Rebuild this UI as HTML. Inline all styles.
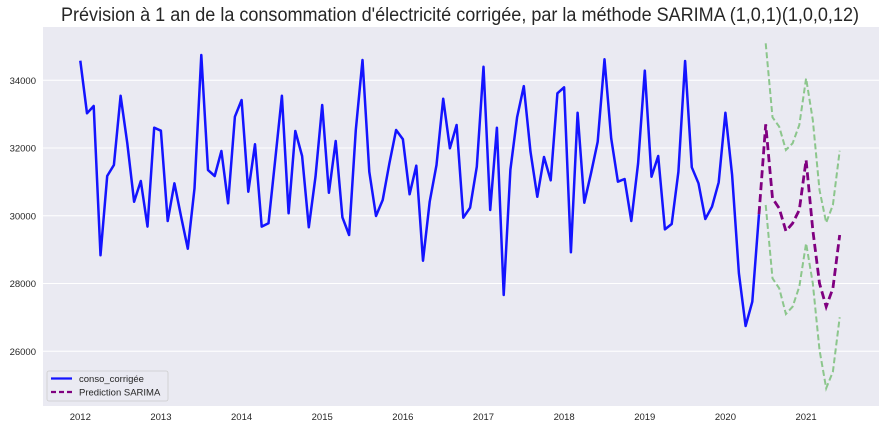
<!DOCTYPE html>
<html><head><meta charset="utf-8"><style>
body{margin:0;background:#fff;}
svg{display:block;font-family:"Liberation Sans",Arial,sans-serif;}
</style></head><body>
<svg id="chart" width="886" height="430" viewBox="0 0 886 430" xmlns="http://www.w3.org/2000/svg">
<text x="460" y="21" text-anchor="middle" font-size="19" fill="#262626" textLength="798" lengthAdjust="spacingAndGlyphs">Prévision à 1 an de la consommation d'électricité corrigée, par la méthode SARIMA (1,0,1)(1,0,0,12)</text>
<rect x="43" y="27" width="836" height="379" fill="#eaeaf2"/>
<g id="grid"></g><g id="yticks"></g><g id="xticks"></g><g id="series"></g>
<g>
<rect x="47" y="371" width="121" height="30" rx="2" fill="#eaeaf2" stroke="#cccccc" stroke-width="0.8"/>
<line x1="51" y1="378.5" x2="72" y2="378.5" stroke="#1414ff" stroke-width="2.2"/>
<text x="79" y="382" font-size="9.5" fill="#262626">conso_corrigée</text>
<line x1="51" y1="392" x2="72" y2="392" stroke="#800080" stroke-width="2.2" stroke-dasharray="5,3"/>
<text x="79" y="395.5" font-size="9.5" fill="#262626">Prediction SARIMA</text>
</g>
</svg>
<script>
const conso = [34580,33026,33240,28834,31175,31500,33545,32140,30417,31027,29680,32600,
32512,29847,30960,29975,29030,30810,34747,31350,31175,31913,30370,32925,
33418,30710,32110,29680,29778,31650,33545,30074,32503,31766,29660,31154,
33270,30680,32208,29956,29434,32533,34600,31300,29994,30466,31550,32533,
32258,30634,31480,28675,30417,31500,33457,31993,32680,29944,30240,31450,
34400,30170,32600,27662,31360,32908,33830,31892,30560,31736,31048,33616,
33793,28922,33044,30387,31254,32187,34620,32288,31007,31086,29847,31550,
34285,31154,31766,29600,29758,31300,34570,31432,30960,29906,30270,30990,
33044,31204,28302,26746,27465,30050];
const predStart = 101;
const prediction = [30050,32701,30517,30222,29551,29778,30171,31647,29580,28007,27317,27860,29434];
const ciStart = 102;
const ciUpper = [35092,32908,32630,31942,32140,32680,34059,32828,30762,29797,30318,31922];
const ciLower = [30318,28155,27860,27100,27317,27908,29188,28007,26040,24907,25398,27004];
const yTicks = [26000,28000,30000,32000,34000];
const yearLabels = ["2012","2013","2014","2015","2016","2017","2018","2019","2020","2021"];

const NS="http://www.w3.org/2000/svg";
function x(i){return 80.3+i*6.72;}
function y(v){return 80.3+(34000-v)*0.033875;}
function mk(tag,attrs,parent){const e=document.createElementNS(NS,tag);for(const k in attrs)e.setAttribute(k,attrs[k]);document.getElementById(parent).appendChild(e);return e;}

yTicks.forEach(v=>{
  const g=mk('line',{x1:43,x2:879,y1:y(v),y2:y(v),stroke:'#fff','stroke-width':1},'grid');
  
  
  const t=mk('text',{x:36,y:y(v)+3.5,'text-anchor':'end','font-size':9.5,fill:'#262626'},'yticks');
  
  
  t.textContent=v;
});
yearLabels.forEach((lab,k)=>{
  const t=mk('text',{x:x(k*12),y:420,'text-anchor':'middle','font-size':9.5,fill:'#262626'},'xticks');
  
  
  t.textContent=lab;
});
function pts(arr,off){return arr.map((v,i)=>x(i+off).toFixed(1)+','+y(v).toFixed(1)).join(' ');}
const up=mk('polyline',{points:pts(ciUpper,ciStart),fill:'none',stroke:'#8cc68c','stroke-width':2,'stroke-dasharray':'6,3'},'series');


const lo=mk('polyline',{points:pts(ciLower,ciStart),fill:'none',stroke:'#8cc68c','stroke-width':2,'stroke-dasharray':'6,3'},'series');


const c=mk('polyline',{points:pts(conso,0),fill:'none',stroke:'#1414ff','stroke-width':2.5,'stroke-linejoin':'round'},'series');


const p=mk('polyline',{points:pts(prediction,predStart),fill:'none',stroke:'#800080','stroke-width':2.8,'stroke-dasharray':'8,4'},'series');


</script>
</body></html>
